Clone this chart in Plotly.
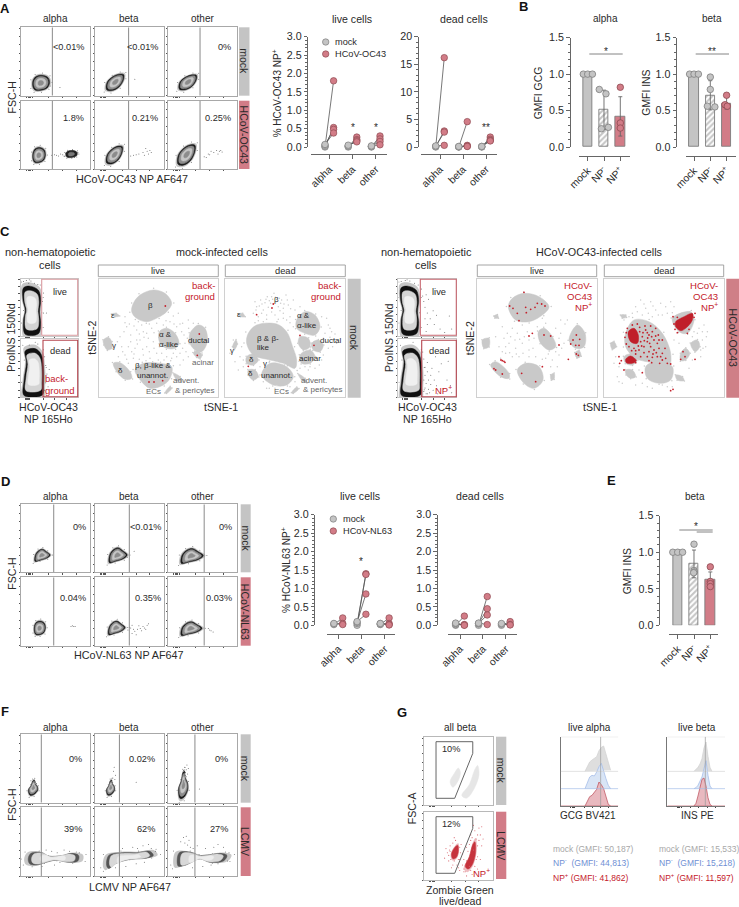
import plotly.graph_objects as go

W, H = 739, 907
INK = "#2a2a2a"
AXIS = "#666666"
GREY = "#c4c4c4"
GREY_EDGE = "#7d7d7d"
ROSE = "#d27c87"
ROSE_EDGE = "#8e4a52"
RED = "#c4202b"
BLUE = "#6f8fd4"

# --- paired dot charts (panels A, D)
CATS = ["alpha", "beta", "other"]
A_LIVE_MOCK = [[0.0, 0.02, 0.05, 0.07], [0.0, 0.02, 0.03, 0.05], [0.0, 0.01, 0.02, 0.03]]
A_LIVE_VIRUS = [[1.8, 0.53, 0.48, 0.38], [0.27, 0.2, 0.17, 0.14], [0.3, 0.22, 0.15, 0.06]]
A_DEAD_MOCK = [[0.0, 0.1, 0.1, 0.2], [0.0, 0.02, 0.05, 0.1], [0.0, 0.05, 0.1, 0.1]]
A_DEAD_VIRUS = [[16.2, 2.9, 2.7, 0.3], [4.6, 0.3, 0.15, 0.1], [1.8, 1.4, 1.2, 1.1]]
D_LIVE_MOCK = [[0.02, 0.04, 0.05], [0.0, 0.05, 0.08, 0.1], [0.02, 0.03, 0.05, 0.05]]
D_LIVE_VIRUS = [[0.2, 0.05, 0.02], [1.4, 1.38, 0.85, 0.3], [0.2, 0.05, 0.02, 0.01]]
D_DEAD_MOCK = [[0.0, 0.02, 0.05, 0.06], [0.0, 0.04, 0.05, 0.06], [0.0, 0.03, 0.05]]
D_DEAD_VIRUS = [[0.25, 0.02, 0.01, 0.0], [0.78, 0.45, 0.28, 0.02], [0.1, 0.02, 0.01]]

# --- bar charts (panels B, E)
BAR_CATS = ["mock", "NP<sup>-</sup>", "NP<sup>+</sup>"]
B_ALPHA_BARS = [1.0, 0.51, 0.42]
B_ALPHA_ERR = [0.0, 0.27, 0.27]
B_ALPHA_PTS = [[1.0, 1.0, 1.0], [0.79, 0.73, 0.27, 0.25], [0.82, 0.33, 0.26]]
B_ALPHA_JIT = [[-0.27, 0.0, 0.29], [-0.29, 0.12, 0.27, -0.16], [0.0, 0.0, 0.0]]
B_BETA_BARS = [1.0, 0.71, 0.6]
B_BETA_ERR = [0.0, 0.2, 0.08]
B_BETA_PTS = [[1.0, 1.0, 1.0], [0.96, 0.79, 0.56, 0.55], [0.71, 0.58, 0.56]]
B_BETA_JIT = [[-0.27, 0.0, 0.27], [0.0, 0.0, -0.18, 0.28], [0.0, -0.1, 0.04]]
E_BARS = [1.0, 0.84, 0.63]
E_ERR = [0.0, 0.19, 0.1]
E_PTS = [[1.0, 1.0, 1.0], [1.11, 0.75, 0.73, 0.72], [0.8, 0.6, 0.57, 0.53]]
E_JIT = [[-0.3, 0.0, 0.3], [0.0, 0.0, 0.02, -0.02], [0.0, 0.0, 0.0, 0.0]]

# --- flow cytometry panels, local units 0-100 on both axes
ROUND = [(-1, -0.6), (-0.7, -1), (0, -1), (0.7, -0.7), (1, 0), (0.8, 0.7), (0.1, 1), (-0.6, 0.85), (-1, 0.3)]
TILT = [(-1, -0.9), (-0.4, -1), (0.4, -0.55), (0.9, 0.35), (0.9, 0.95), (0.4, 1), (-0.3, 0.7), (-0.95, 0)]
FLAT = [(-1, -1), (-0.3, -0.8), (0.5, -0.5), (1, 0.05), (0.5, 0.6), (0, 1), (-0.5, 0.8), (-0.95, 0.1)]
TALL = [(-0.6, -1), (0.1, -0.9), (0.8, -0.3), (0.7, 0.2), (0.3, 0.55), (0.2, 1), (-0.1, 0.9), (-0.4, 0.3), (-0.9, -0.3)]
SHAPES = {"ROUND": ROUND, "TILT": TILT, "FLAT": FLAT, "TALL": TALL}
FLOW_COLS = [(21.3, 90.3), (95, 163.6), (168.3, 237.3)]

A_ROWS = [(27.3, 95.7), (100.7, 169)]
A_GATES = [45, 49, 46]
A_PCT = [["<0.01%", "<0.01%", "0%"], ["1.8%", "0.21%", "0.25%"]]
A_CLUSTERS = [
    [[(29, 19, 12, 11, "ROUND")], [(30, 19.5, 13, 12, "TILT")], [(29, 19.5, 13, 11, "TILT")]],
    [[(26, 20.5, 9, 11, "ROUND")], [(29, 20.5, 12, 13, "TILT")], [(27, 20.5, 13, 15, "TILT")]],
]
A_SPECKS = [
    [[(56, 12), (42, 14), (40, 24)], [(58, 24)], []],
    [[(44, 20), (48, 21), (51, 20), (54, 19), (57, 22), (60, 21), (62, 19), (64, 23), (66, 20), (68, 22),
      (70, 25), (72, 19), (73, 23), (75, 20), (76, 26), (78, 23), (80, 20), (82, 24), (69, 18), (74, 27), (77, 17)],
     [(52, 19), (56, 20), (60, 21), (64, 22), (70, 24), (72, 20), (74, 30), (76, 26), (78, 22), (80, 27), (82, 24)],
     [(52, 18), (55, 17), (58, 22), (60, 21), (62, 26), (66, 24), (70, 27), (72, 22), (74, 26), (76, 27), (78, 25)]],
]
A_DENSE = [(73, 22, 8, 5, "ROUND")]

D_ROWS = [(504.3, 572.3), (577.3, 645.7)]
D_GATES = [47, 50, 52]
D_PCT = [["0%", "<0.01%", "0%"], ["0.04%", "0.35%", "0.03%"]]
D_CLUSTERS = [
    [[(31, 25, 11, 9, "FLAT")], [(34, 25, 13, 11, "FLAT")], [(35, 24, 16, 11, "FLAT")]],
    [[(27, 26, 8, 10, "ROUND")], [(32, 26, 12, 10, "FLAT")], [(34, 25, 15, 10, "FLAT")]],
]
D_SPECKS = [
    [[], [(57, 31), (47, 22)], []],
    [[(74, 29), (76, 28), (78, 28), (72, 28)],
     [(48, 23), (50, 27), (52, 26), (54, 18), (56, 24), (58, 21), (60, 16), (62, 24), (66, 25), (68, 22),
      (70, 28), (72, 26), (74, 24), (76, 30), (78, 32), (54, 30), (64, 29)],
     [(58, 25), (60, 23), (62, 22), (65, 20)]],
]

F_ROWS = [(734.3, 802.7), (807.3, 876)]
F_GATES = [29, 35.6, 38.6]
F_PCT = [["0%", "0.02%", "0%"], ["39%", "62%", "27%"]]
F_CLUSTERS = [
    [[(17.5, 22, 8, 11, "TALL")], [(23, 22, 7, 11, "TALL")], [(22, 26, 8, 20, "TALL")]],
    [[], [], []],
]
F_SPECKS = [
    [[(14, 32), (20, 31), (22, 28)], [(28, 52), (27, 46), (30, 40), (26, 36), (60, 30), (29, 34)],
     [(26, 48), (24, 52), (27, 55), (25, 44), (28, 42), (22, 47), (29, 50), (45, 20), (26, 38)]],
    [[(36, 38), (44, 36), (52, 34), (62, 38), (70, 36), (84, 34), (30, 14), (48, 16), (56, 20)],
     [(40, 40), (55, 42), (62, 40), (70, 44), (78, 46), (82, 40), (88, 36), (30, 12), (45, 14), (60, 18), (72, 20)],
     [(18, 50), (22, 56), (24, 48), (26, 58), (28, 45), (30, 52), (32, 42), (36, 40), (42, 44), (54, 40), (66, 42),
      (72, 46), (80, 42), (88, 34), (35, 12), (50, 14), (62, 16), (72, 18), (86, 22)]],
]
F_BAND_ALPHA = [(10, 25), (14, 33), (30, 34), (40, 29), (60, 30), (72, 33), (83, 30), (82, 22), (68, 20), (50, 23), (36, 20), (22, 16), (12, 18)]
F_BAND_BETA = [(17, 15), (20, 30), (40, 34), (60, 34), (80, 36), (85, 30), (75, 26), (50, 24), (30, 18), (20, 11)]
F_BAND_OTHER = [(13, 18), (16, 34), (35, 34), (45, 30), (60, 31), (75, 33), (85, 30), (80, 22), (60, 20), (45, 25), (30, 18), (15, 14)]

# gating plots of panel C
C_LIVE_BLOB = [(5, 84), (16, 87), (31, 80), (35, 63), (33, 42), (35, 22), (31, 4), (8, 3), (5, 28), (8, 45), (4, 63)]
C_DEAD_BLOB = [(8, 80), (25, 84), (36, 74), (40, 50), (40, 20), (38, 4), (6, 3), (6, 30), (10, 60)]
C_MOCK_LIVE_SPECKS = [(5, 95), (10, 97), (18, 96), (24, 92), (30, 90), (14, 92), (40, 40), (45, 40), (38, 60), (40, 75)]
C_MOCK_DEAD_SPECKS = [(42, 70), (44, 55), (46, 40), (44, 25), (42, 12), (48, 18), (50, 48), (30, 92), (15, 90)]
C_OC43_LIVE_SPECKS = [(5, 95), (12, 97), (20, 96), (28, 92), (40, 82), (42, 70), (44, 60), (46, 50), (48, 72), (50, 40),
                      (52, 64), (46, 30), (50, 20), (55, 30), (60, 44), (62, 20), (66, 36), (72, 12), (80, 6), (88, 35), (92, 12), (48, 8)]
C_OC43_DEAD_SPECKS = [(42, 78), (44, 66), (46, 52), (46, 38), (48, 24), (44, 10), (50, 44), (50, 60), (52, 30), (52, 14), (54, 8),
                      (56, 22), (56, 38), (58, 50), (60, 12), (62, 30), (64, 70), (66, 20), (68, 6), (70, 44), (74, 58), (78, 14),
                      (84, 30), (86, 62), (90, 20), (48, 6), (46, 16), (50, 6), (44, 30), (92, 8)]

# --- tSNE maps, drawn in units
MOCK_LIVE_BLOBS = [
    [(400, 310), (420, 285), (460, 270), (495, 280), (515, 310), (500, 335), (475, 352), (440, 365), (410, 355), (395, 335)],
    [(478, 395), (500, 385), (525, 400), (537, 430), (525, 445), (500, 445), (480, 430)],
    [(570, 400), (595, 375), (615, 385), (622, 425), (605, 455), (585, 450), (570, 430)],
    [(580, 458), (592, 452), (606, 465), (600, 476), (590, 472)],
    [(310, 420), (325, 412), (335, 425), (335, 445), (322, 450), (312, 435)],
    [(340, 490), (360, 488), (390, 515), (395, 535), (375, 538), (350, 515)],
    [(405, 510), (430, 490), (480, 490), (515, 500), (510, 535), (490, 555), (450, 565), (425, 545)],
    [(335, 342), (348, 340), (358, 348), (345, 350)],
    [(495, 578), (510, 560), (515, 565), (500, 580)],
    [(520, 520), (540, 530), (545, 545), (530, 540)],
]
MOCK_LIVE_SPECKS = [(380, 380), (392, 405), (410, 390), (425, 375), (440, 400), (455, 385), (470, 370), (385, 440), (405, 445),
                    (420, 420), (440, 440), (460, 425), (470, 460), (430, 465), (400, 475), (375, 465), (360, 410), (545, 395),
                    (555, 430), (540, 460), (520, 460), (500, 470), (550, 480), (565, 470), (530, 380), (510, 365), (490, 375),
                    (450, 360), (415, 365), (375, 350), (395, 455), (450, 475), (485, 460), (548, 370), (565, 360), (445, 415),
                    (430, 395), (365, 440), (355, 470), (515, 475), (540, 495), (410, 420), (475, 480), (385, 490),
                    (372, 395), (388, 372), (402, 378), (418, 402), (432, 412), (448, 372), (462, 398), (476, 412), (392, 425),
                    (412, 432), (428, 448), (448, 455), (462, 445), (478, 440), (402, 462), (418, 478), (438, 482), (458, 485),
                    (352, 425), (368, 455), (380, 478), (552, 405), (562, 415), (548, 445), (558, 455), (530, 470), (512, 482),
                    (492, 480), (566, 385), (580, 370), (540, 372), (522, 372), (498, 362), (520, 348), (535, 340), (375, 368)]
MOCK_LIVE_RED = [(496, 318), (598, 402), (592, 466), (447, 546), (462, 546), (488, 542)]
MOCK_LIVE_LABELS = [("β", 452, 317, INK), ("ε", 338, 345, INK), ("γ", 342, 435, INK), ("α &", 497, 403, INK), ("α-like", 507, 432, INK),
                    ("ductal", 598, 422, INK), ("acinar", 608, 488, "#666"), ("δ", 362, 512, INK), ("β, β-like &", 460, 498, INK),
                    ("unannot.", 458, 527, INK), ("advent.", 558, 543, "#666"), ("& pericytes", 586, 573, "#666"), ("ECs", 461, 576, "#666")]
MOCK_DEAD_BLOBS = [
    [(745, 400), (770, 375), (830, 372), (860, 395), (878, 440), (890, 480), (885, 505), (850, 490), (810, 480), (760, 465), (740, 430)],
    [(890, 360), (915, 335), (945, 345), (960, 380), (945, 405), (915, 400), (890, 385)],
    [(935, 430), (955, 420), (970, 435), (960, 455), (940, 450)],
    [(900, 410), (925, 415), (930, 440), (910, 450), (895, 430)],
    [(900, 465), (930, 450), (945, 470), (930, 490), (905, 490)],
    [(740, 470), (760, 462), (775, 480), (760, 495), (740, 490)],
    [(745, 510), (765, 510), (775, 530), (760, 540), (745, 525)],
    [(785, 525), (810, 490), (860, 500), (880, 530), (860, 555), (820, 555)],
    [(698, 440), (708, 420), (712, 432), (704, 448)],
    [(715, 342), (728, 340), (735, 350), (722, 350)],
    [(875, 578), (890, 562), (896, 566), (880, 580)],
    [(895, 522), (915, 535), (920, 548), (905, 540)],
]
MOCK_DEAD_SPECKS = [(770, 320), (782, 300), (790, 330), (802, 290), (812, 310), (822, 280), (835, 320), (845, 300), (858, 285), (865, 315),
                    (760, 340), (775, 350), (800, 345), (825, 345), (850, 340), (870, 350), (880, 300), (805, 322), (795, 308), (838, 295),
                    (828, 305), (815, 290), (850, 325), (885, 330), (965, 350), (985, 375), (995, 395), (1000, 420), (985, 445), (975, 400),
                    (1010, 430), (880, 380), (970, 465), (720, 470), (705, 485), (715, 510), (730, 500), (790, 365), (860, 360), (900, 320),
                    (690, 460), (700, 420), (780, 500), (900, 505), (925, 510), (800, 565), (850, 570),
                    (765, 305), (778, 318), (786, 312), (798, 298), (808, 302), (818, 298), (826, 292), (842, 310), (852, 312), (862, 300),
                    (872, 326), (840, 332), (815, 336), (785, 340), (768, 330), (775, 362), (800, 358), (835, 358), (850, 355), (870, 368),
                    (980, 355), (990, 385), (978, 425), (998, 440), (990, 412), (1005, 402), (970, 415), (965, 480), (958, 495), (945, 505),
                    (930, 500), (915, 500), (795, 510), (790, 545), (808, 565), (825, 565), (870, 560), (885, 545), (725, 440), (730, 480)]
MOCK_DEAD_RED = [(820, 312), (816, 324), (770, 344), (900, 406), (942, 436), (745, 499)]
MOCK_DEAD_LABELS = [("β", 830, 298, INK), ("ε", 717, 344, INK), ("α &", 910, 347, INK), ("α-like", 920, 375, INK), ("β & β-", 805, 415, INK),
                    ("like", 790, 443, INK), ("ductal", 992, 422, INK), ("acinar", 931, 476, INK), ("γ", 696, 452, INK), ("γ", 794, 492, INK),
                    ("δ", 755, 480, INK), ("δ", 752, 520, INK), ("unannot.", 830, 527, INK), ("advent.", 942, 541, "#666"),
                    ("& pericytes", 970, 570, "#666"), ("ECs", 844, 575, "#666")]
OC43_LIVE_BLOBS = [
    [(418, 320), (430, 295), (465, 280), (510, 290), (540, 320), (520, 345), (480, 365), (440, 360)],
    [(508, 395), (525, 385), (550, 410), (560, 440), (540, 450), (515, 430)],
    [(600, 420), (625, 375), (648, 400), (645, 440), (620, 445)],
    [(618, 458), (630, 452), (636, 468), (624, 474)],
    [(340, 420), (360, 415), (360, 440), (345, 445)],
    [(365, 495), (380, 485), (420, 520), (420, 535), (395, 530)],
    [(445, 510), (470, 490), (510, 500), (522, 540), (495, 565), (465, 550)],
    [(375, 348), (385, 344), (388, 354), (378, 354)],
    [(545, 525), (555, 520), (555, 538), (547, 540)],
]
OC43_LIVE_SPECKS = [(400, 380), (415, 400), (430, 385), (445, 400), (460, 375), (475, 395), (420, 430), (440, 445), (460, 430), (480, 450),
                    (500, 470), (410, 460), (390, 440), (380, 410), (530, 370), (560, 385), (575, 400), (585, 430), (570, 465), (550, 480),
                    (530, 475), (595, 360), (520, 355), (450, 470), (430, 470), (395, 475), (495, 415), (480, 420), (565, 500), (545, 500),
                    (405, 415), (425, 410), (438, 420), (452, 418), (466, 410), (410, 440), (400, 455), (422, 458), (442, 462), (462, 460),
                    (480, 470), (492, 445), (575, 360), (588, 372), (570, 415), (578, 445), (560, 455), (538, 462), (520, 478), (505, 380)]
OC43_LIVE_RED = [(465, 277), (422, 318), (432, 325), (445, 340), (470, 322), (485, 328), (498, 322), (505, 310), (518, 312), (528, 318),
                 (450, 362), (472, 338), (545, 408), (525, 405), (490, 400), (480, 408), (622, 405), (612, 420), (632, 418), (605, 432),
                 (620, 436), (630, 436), (622, 462), (628, 466), (598, 478), (400, 482), (405, 484), (396, 480), (408, 487), (375, 506),
                 (380, 510), (400, 522), (458, 520), (520, 500), (500, 545), (570, 435)]
OC43_DEAD_BLOBS = [
    [(770, 400), (795, 360), (840, 365), (880, 400), (905, 460), (900, 500), (860, 490), (800, 475), (770, 440)],
    [(910, 355), (965, 335), (975, 360), (955, 400), (930, 395)],
    [(830, 500), (860, 485), (910, 500), (905, 540), (870, 550), (835, 535)],
    [(765, 470), (785, 462), (805, 480), (790, 495), (770, 490)],
    [(770, 510), (790, 510), (800, 530), (785, 535), (772, 525)],
    [(935, 460), (950, 445), (962, 460), (950, 480), (935, 482)],
    [(965, 430), (985, 420), (992, 440), (978, 455)],
    [(920, 525), (940, 530), (945, 542), (925, 540)],
    [(725, 430), (735, 425), (742, 440), (730, 448)],
    [(755, 345), (770, 345), (772, 352), (760, 354)],
]
OC43_DEAD_SPECKS = [(800, 320), (815, 300), (830, 325), (845, 305), (860, 330), (875, 310), (890, 320), (905, 305), (915, 320), (880, 345),
                    (850, 350), (820, 345), (790, 340), (1005, 375), (1015, 395), (1000, 420), (985, 400), (970, 410), (1010, 440), (995, 450),
                    (740, 470), (750, 500), (810, 510), (820, 550), (850, 565), (880, 555), (910, 560), (745, 530), (760, 550), (915, 420), (930, 430),
                    (805, 335), (825, 312), (838, 340), (852, 318), (868, 345), (895, 340), (910, 338), (780, 350), (765, 360), (990, 385),
                    (1000, 395), (975, 395), (1002, 445), (1012, 410), (995, 470), (970, 480), (960, 505), (735, 490), (750, 545), (800, 555), (835, 560), (895, 560)]
OC43_DEAD_RED_CORES = [
    [(778, 395), (795, 385), (808, 405), (805, 430), (785, 425)],
    [(920, 365), (945, 350), (970, 340), (970, 360), (950, 385), (935, 392), (920, 380)],
    [(770, 478), (785, 468), (802, 482), (790, 490), (772, 488)],
]
OC43_DEAD_RED = [(812, 395), (820, 410), (830, 390), (840, 405), (850, 395), (815, 425), (825, 440), (835, 425), (845, 440), (855, 420),
                 (865, 430), (780, 440), (795, 445), (810, 450), (825, 458), (840, 455), (855, 450), (870, 445), (880, 460), (890, 475),
                 (800, 462), (815, 470), (835, 470), (850, 472), (865, 470), (880, 480), (895, 490), (860, 385), (790, 375), (775, 385),
                 (805, 372), (828, 378), (845, 378), (868, 405), (880, 420), (888, 445), (872, 490), (848, 488), (905, 492), (912, 350),
                 (925, 352), (915, 372), (960, 388), (975, 352), (978, 340), (955, 400), (942, 455), (948, 470), (935, 478), (978, 478),
                 (752, 490), (757, 482), (765, 510), (820, 518), (912, 568), (905, 572), (750, 470), (925, 398), (918, 388), (800, 488),
                 (822, 398), (836, 414), (848, 410), (826, 422), (818, 438), (842, 430), (860, 408), (870, 420), (808, 438), (800, 452),
                 (788, 452), (772, 432), (768, 412), (772, 398), (812, 382), (835, 398), (852, 462), (862, 458), (875, 470), (840, 482)]
LIVE_TITLES_RED = ["HCoV-", "OC43", "NP<sup>+</sup>"]

# --- histograms of panel G (bin centres and heights, per row)
HIST_ALPHA_X = [555, 562, 569, 576, 583, 590, 597, 604, 611, 618, 625, 632]
HIST_ALPHA_MOCK = [0, 14, 28, 34, 38, 44, 62, 72, 76, 52, 22, 3]
HIST_ALPHA_NEG = [0, 15, 35, 40, 38, 50, 66, 76, 50, 30, 10, 0]
HIST_ALPHA_POS = [0, 12, 28, 32, 40, 50, 72, 64, 52, 30, 5, 0]
HIST_BETA_X = [882, 888, 894, 900, 906, 912, 918, 924, 930, 936]
HIST_BETA_MOCK = [0, 5, 12, 22, 38, 70, 88, 45, 12, 0]
HIST_BETA_NEG = [0, 3, 10, 22, 35, 60, 84, 40, 8, 0]
HIST_BETA_POS = [0, 8, 30, 58, 80, 84, 60, 25, 5, 0]
G_GATE = [(17.5, 92.7), (71, 92.7), (71, 75.6), (44.7, 9.8), (17.5, 9.8)]
G_MOCK_CLOUDS = [[(38, 34), (44, 46), (50, 54), (53, 48), (50, 36), (42, 26)],
                 [(55, 14), (66, 30), (74, 52), (78, 58), (80, 44), (72, 22), (62, 10)]]
G_LCMV_CLOUDS = [[(40, 38), (45, 48), (49, 51), (50, 42), (47, 33), (42, 31)],
                 [(60, 20), (66, 34), (71, 52), (74, 56), (75, 40), (70, 22), (64, 16)]]
G_LCMV_SPECKS = [(34, 40), (36, 28), (42, 22), (48, 22), (52, 30), (56, 38), (54, 52), (46, 58), (38, 50), (30, 32), (60, 22), (52, 14),
                 (50, 18), (58, 30), (62, 48), (68, 66), (74, 72), (80, 76), (82, 66), (84, 50), (82, 30), (78, 16), (70, 8), (62, 6),
                 (66, 52), (76, 30), (84, 78), (80, 58), (40, 18), (32, 46), (58, 12), (86, 60), (74, 12), (44, 62), (72, 80),
                 (37, 44), (36, 36), (39, 30), (44, 28), (50, 30), (53, 40), (52, 48), (42, 54), (38, 42), (58, 16), (56, 22), (62, 28),
                 (64, 42), (68, 58), (70, 62), (76, 60), (78, 50), (78, 34), (74, 20), (68, 14), (60, 12), (66, 20), (72, 44), (78, 66)]
G_TEXT_ALPHA = ["mock (GMFI: 50,187)", "NP<sup>-</sup>  (GMFI: 44,813)", "NP<sup>+</sup> (GMFI: 41,862)"]
G_TEXT_BETA = ["mock (GMFI: 15,533)", "NP<sup>-</sup>  (GMFI: 15,218)", "NP<sup>+</sup> (GMFI: 11,597)"]

fig = go.Figure()
axis_count = 0


def new_axes(xkw, ykw):
    global axis_count
    axis_count += 1
    tag = "" if axis_count == 1 else str(axis_count)
    xkw.setdefault("anchor", "y" + tag)
    ykw.setdefault("anchor", "x" + tag)
    fig.update_layout({"xaxis" + tag: xkw, "yaxis" + tag: ykw})
    return "x" + tag, "y" + tag


def dx(a, b):
    return [a / W, b / W]


def dy(top, bot):
    return [1 - bot / H, 1 - top / H]


def text(px, py, s, size=10.6, color=INK, anchor="center", angle=0, bold=False):
    fig.add_annotation(x=px / W, y=1 - py / H, xref="paper", yref="paper", text=f"<b>{s}</b>" if bold else s,
                       showarrow=False, xanchor=anchor, yanchor="middle", textangle=angle,
                       font=dict(size=size, color=color))


def page_rect(x0, y0, x1, y1, fill="rgba(0,0,0,0)", line=None, width=1):
    fig.add_shape(type="rect", xref="paper", yref="paper", x0=x0 / W, x1=x1 / W, y0=1 - y1 / H, y1=1 - y0 / H,
                  fillcolor=fill, line=dict(color=line, width=width if line else 0))


def page_line(x0, y0, x1, y1, color=AXIS, width=0.8):
    fig.add_shape(type="line", xref="paper", yref="paper", x0=x0 / W, x1=x1 / W, y0=1 - y0 / H, y1=1 - y1 / H,
                  line=dict(color=color, width=width))


def strip(x0, x1, y0, y1, fill, label):
    page_rect(x0, y0, x1, y1, fill=fill)
    text((x0 + x1) / 2, (y0 + y1) / 2, label, angle=90, size=10.5)


def polygon(xa, ya, pts, fill, line=None, width=0.5, smooth=True):
    xs = [p[0] for p in pts] + [pts[0][0]]
    ys = [p[1] for p in pts] + [pts[0][1]]
    fig.add_trace(go.Scatter(x=xs, y=ys, xaxis=xa, yaxis=ya, mode="lines", fill="toself", fillcolor=fill,
                             line=dict(color=line or fill, width=width, shape="spline" if smooth else "linear"),
                             hoverinfo="skip", showlegend=False))


def dots(xa, ya, pts, color, size=1.4):
    if not pts:
        return
    fig.add_trace(go.Scatter(x=[p[0] for p in pts], y=[p[1] for p in pts], xaxis=xa, yaxis=ya, mode="markers",
                             marker=dict(color=color, size=size), hoverinfo="skip", showlegend=False, cliponaxis=True))


def scaled(pts, k):
    cx = sum(p[0] for p in pts) / len(pts)
    cy = sum(p[1] for p in pts) / len(pts)
    return [(cx + (p[0] - cx) * k, cy + (p[1] - cy) * k) for p in pts]


def contour(xa, ya, pts, layers=((1.0, "#1a1a1a"), (0.84, "#8c8c8c"), (0.6, "#c6c6c6"), (0.32, "#8c8c8c"))):
    polygon(xa, ya, scaled(pts, 1.17), "rgba(70,70,70,0.3)", line="rgba(0,0,0,0)")
    dots(xa, ya, scaled(pts, 1.28), "#777777", 1)
    for k, col in layers:
        polygon(xa, ya, scaled(pts, k), col)


def cluster_points(c):
    cx, cy, sx, sy, name = c
    return [(cx + a * sx, cy + b * sy) for a, b in SHAPES[name]]


def flow_axes(col, row, frame="#a8a8a8"):
    ticks = dict(ticks="outside", ticklen=1.5, tickwidth=0.7, tickcolor="#555555", showticklabels=False,
                 showgrid=False, zeroline=False, showline=True, mirror=True, linecolor=frame, linewidth=0.8,
                 range=[0, 100], fixedrange=True)
    return new_axes(dict(domain=dx(*col), tickvals=[8, 10, 12, 14, 16, 40, 60, 80], **ticks),
                    dict(domain=dy(*row), tickvals=[0, 12, 25, 37, 50, 62, 75, 87, 98], **ticks))


def gate_line(xa, ya, x):
    fig.add_shape(type="line", xref=xa, yref=ya, x0=x, x1=x, y0=0, y1=100, line=dict(color="#8a8a8a", width=1))


def flow_grid(rows, gates, clusters, specks, pct, right_off, pct_y, headers_y):
    grid = []
    for r, row in enumerate(rows):
        line = []
        for c, col in enumerate(FLOW_COLS):
            xa, ya = flow_axes(col, row)
            gate_line(xa, ya, gates[c])
            for cl in clusters[r][c]:
                contour(xa, ya, cluster_points(cl))
            dots(xa, ya, specks[r][c], "#666666", 1)
            text(col[1] + right_off[c], pct_y[r], pct[r][c], anchor="right", size=9.2)
            line.append((xa, ya))
        grid.append(line)
    for c, name in enumerate(CATS):
        text(sum(FLOW_COLS[c]) / 2, headers_y, name, size=10)
    return grid


def y_line_axis(top, bot, rng, major, minor, xpos):
    return dict(domain=dy(top, bot), range=rng, anchor="free", position=xpos / W, showline=True, linecolor=AXIS,
                linewidth=0.9, ticks="outside", ticklen=3.5, tickwidth=0.9, tickcolor=AXIS, dtick=major, tick0=0,
                tickformat=".1f" if major < 1 else "d", minor=dict(ticks="outside", ticklen=2, dtick=minor, tickcolor=AXIS, tickwidth=0.6),
                showgrid=False, zeroline=False, tickfont=dict(size=10.7, color=INK), fixedrange=True)


def x_cat_axis(left, right, t0, step, ypos, labels):
    return dict(domain=dx(left, right), range=[(left - t0) / step, (right - t0) / step], anchor="free", position=1 - ypos / H,
                showline=True, linecolor=AXIS, linewidth=0.9, ticks="outside", ticklen=4, tickwidth=0.9, tickcolor=AXIS,
                tickvals=list(range(len(labels))), ticktext=labels, tickangle=-45, showgrid=False, zeroline=False,
                tickfont=dict(size=10.3, color=INK), fixedrange=True)


def paired_chart(ybox, ymax, major, minor, yx, xbox, t0, step, xy, mock, virus, shift):
    xa, ya = new_axes(x_cat_axis(xbox[0], xbox[1], t0, step, xy, CATS), y_line_axis(ybox[0], ybox[1], [0, ymax], major, minor, yx))
    for i, (m, v) in enumerate(zip(mock, virus)):
        for a, b in zip(m, v):
            fig.add_trace(go.Scatter(x=[i - shift, i + shift], y=[a, b], xaxis=xa, yaxis=ya, mode="lines", cliponaxis=False,
                                     line=dict(color="#555555", width=0.8), hoverinfo="skip", showlegend=False))
    for vals, fill, edge, off in ((mock, GREY, GREY_EDGE, -shift), (virus, ROSE, ROSE_EDGE, shift)):
        fig.add_trace(go.Scatter(x=[i + off for i, v in enumerate(vals) for _ in v], y=[a for v in vals for a in v], xaxis=xa, yaxis=ya,
                                 mode="markers", cliponaxis=False, marker=dict(size=6.5, color=fill, line=dict(color=edge, width=0.7)),
                                 hoverinfo="skip", showlegend=False))


def legend_key(px, py, fill, edge):
    fig.add_shape(type="circle", xref="paper", yref="paper", x0=(px - 3.2) / W, x1=(px + 3.2) / W, y0=1 - (py + 3.2) / H, y1=1 - (py - 3.2) / H,
                  fillcolor=fill, line=dict(color=edge, width=0.7))


def bar_chart(ybox, yx, xbox, t0, step, xy, bars, err, pts, jit, bar_width):
    xa, ya = new_axes(x_cat_axis(xbox[0], xbox[1], t0, step, xy, BAR_CATS), y_line_axis(ybox[0], ybox[1], [0, 1.5], 0.5, 0.1, yx))
    fig.add_trace(go.Bar(x=[0, 1, 2], y=bars, xaxis=xa, yaxis=ya, width=bar_width, cliponaxis=False, showlegend=False, hoverinfo="skip",
                         marker=dict(color=[GREY, GREY, ROSE], line=dict(color=GREY_EDGE, width=0.9),
                                     pattern=dict(shape=["", "/", ""], fgcolor=[GREY, "#d27c87", ROSE], bgcolor=[GREY, "#d6cccd", ROSE],
                                                  fgopacity=1, fillmode="replace", size=4, solidity=0.5)),
                         error_y=dict(type="data", array=err, color="#666666", thickness=0.9, width=2)))
    xs, ys, fills, edges = [], [], [], []
    for i, (p, j) in enumerate(zip(pts, jit)):
        for a, b in zip(p, j):
            xs.append(i + b)
            ys.append(a)
            fills.append(ROSE if i == 2 else GREY)
            edges.append(ROSE_EDGE if i == 2 else GREY_EDGE)
    fig.add_trace(go.Scatter(x=xs, y=ys, xaxis=xa, yaxis=ya, mode="markers", cliponaxis=False, hoverinfo="skip", showlegend=False,
                             marker=dict(size=6.5, color=fills, line=dict(color=edges, width=0.8))))


def tsne_map(xbox, ybox, xr, yr, blobs, specks, red, labels, cores=()):
    plain = dict(showgrid=False, zeroline=False, showticklabels=False, ticks="", showline=True, mirror=True, linecolor="#d0d0d0",
                 linewidth=1, fixedrange=True)
    xa, ya = new_axes(dict(domain=dx(*xbox), range=xr, **plain), dict(domain=dy(*ybox), range=yr, **plain))
    for b in blobs:
        polygon(xa, ya, b, "#c9c9c9")
        dots(xa, ya, scaled(b, 1.1), "#c9c9c9", 1.5)
    dots(xa, ya, specks, "#cccccc", 1.5)
    for b in cores:
        polygon(xa, ya, b, "#c01f2a")
    dots(xa, ya, red, RED, 1.8)
    for s, x, y, col in labels:
        fig.add_annotation(x=x, y=y, xref=xa, yref=ya, text=s, showarrow=False, font=dict(size=8, color=col))


# panel letters
for s, x, y in (("A", 5, 8), ("B", 523.5, 7), ("C", 5, 232), ("D", 5, 481.5), ("E", 611.5, 480.5), ("F", 5, 711.5), ("G", 402, 712.5)):
    text(x, y, s, size=13, color="#111", bold=True)

# ---- A
flow_grid(A_ROWS, A_GATES, A_CLUSTERS, A_SPECKS, A_PCT, [-4, -3.5, -4.5], [46.7, 118], 19)
contour("x4", "y4", cluster_points(A_DENSE[0]), layers=((1.0, "#222222"), (0.55, "#777777")))
strip(239, 249.5, 27.3, 95.7, GREY, "mock")
strip(239, 249.5, 100.7, 169, ROSE, "HCoV-OC43")
text(11.5, 98, "FSC-H", angle=-90)
text(131.5, 179, "HCoV-OC43 NP AF647", size=10.8)

paired_chart((36.7, 147), 3, 0.5, 0.1, 307.3, (310.7, 386.5), 329.3, 23.2, 154.3, A_LIVE_MOCK, A_LIVE_VIRUS, 0.185)
paired_chart((36.7, 147), 20, 5, 1, 417.7, (421.3, 496.7), 440, 23, 154.3, A_DEAD_MOCK, A_DEAD_VIRUS, 0.185)
text(352, 19, "live cells")
text(463.7, 19, "dead cells")
text(277.3, 93, "% HCoV-OC43 NP<sup>+</sup>", angle=-90, size=10)
legend_key(325.7, 42, GREY, GREY_EDGE)
legend_key(325.7, 54, ROSE, ROSE_EDGE)
text(332.7, 42, "mock", anchor="left", size=9.2)
text(332.7, 54, "HCoV-OC43", anchor="left", size=9.2)
text(352.7, 127, "*", size=10)
text(375.7, 127, "*", size=10)
text(485.7, 127.5, "**", size=10)

# ---- B
bar_chart((37.7, 147), 569.5, (579.3, 630), 587.7, 16.3, 155.7, B_ALPHA_BARS, B_ALPHA_ERR, B_ALPHA_PTS, B_ALPHA_JIT, 0.58)
bar_chart((37.7, 147), 676, (686, 736), 694, 16.3, 155.7, B_BETA_BARS, B_BETA_ERR, B_BETA_PTS, B_BETA_JIT, 0.58)
text(605, 19, "alpha", size=10)
text(711.7, 19, "beta", size=10)
text(539.3, 93, "GMFI GCG", angle=-90, size=10.4)
text(646.7, 93, "GMFI INS", angle=-90, size=10.4)
page_line(589.3, 54, 622.7, 54)
page_line(695.7, 54, 729, 54)
text(605.7, 51, "*", size=10)
text(712.3, 51, "**", size=10)

# ---- C
BOX_TOP, BOX_BOT = 278.7, 397.3
for cx, title, cx_t in ((50, "mock-infected cells", 222), (426.3, "HCoV-OC43-infected cells", 599.3)):
    text(cx, 252, "non-hematopoietic", size=11)
    text(cx, 265, "cells", size=10.8)
    text(cx_t, 252, title, size=10.8)
for x0, x1, s in ((98.3, 218.3, "live"), (225.3, 345.3, "dead"), (477.3, 596.7, "live"), (604.3, 723.7, "dead")):
    page_rect(x0, 265, x1, 276.7, fill="white", line="#9a9a9a", width=0.9)
    text((x0 + x1) / 2, 270.8, s, size=9.3)

for col, lgate, dgate, live_specks, dead_specks, sx, txt_x, head in (
        ((20.7, 77.7), 41.7, 43, C_MOCK_LIVE_SPECKS, C_MOCK_DEAD_SPECKS, 10.7, 48.7, "back"),
        ((398.3, 456.3), 420.3, 421.7, C_OC43_LIVE_SPECKS, C_OC43_DEAD_SPECKS, 389, 427.3, "np")):
    for row, blob, spk in (((278.7, 336), C_LIVE_BLOB, live_specks), ((339.3, 397.3), C_DEAD_BLOB, dead_specks)):
        xa, ya = flow_axes(col, row, frame="#c8c8c8")
        contour(xa, ya, blob, layers=((1.0, "#111111"), (0.8, "#d4d4d4"), (0.55, "#f0f0f0")))
        dots(xa, ya, spk, "#666666", 1)
    page_rect(lgate, 279.3, col[1], 335.3, line="#d99a9f" if head == "back" else "#c7666f", width=1.1)
    page_rect(dgate, 340.3, col[1], 396.7, line="#b5454f", width=1.1)
    text(sx, 338, "ProINS 150Nd", angle=-90)
    text(txt_x, 406.7, "HCoV-OC43")
    text(txt_x, 419, "NP 165Ho")
    text(lgate + 18.7, 292, "live", size=9.3)
    text(dgate + 17.7, 351, "dead", size=9.3)
text(56.7, 379, "back-", size=9.5, color=RED)
text(60, 390, "ground", size=9.5, color=RED)
text(454, 390, "NP<sup>+</sup>", size=9.5, color=RED, anchor="right")

tsne_map((98.7, 218.3), (BOX_TOP, BOX_BOT), [296, 655], [592, 236], MOCK_LIVE_BLOBS, MOCK_LIVE_SPECKS, MOCK_LIVE_RED, MOCK_LIVE_LABELS)
tsne_map((225.3, 345.3), (BOX_TOP, BOX_BOT), [676, 1036], [592, 236], MOCK_DEAD_BLOBS, MOCK_DEAD_SPECKS, MOCK_DEAD_RED, MOCK_DEAD_LABELS)
tsne_map((477.3, 596.7), (BOX_TOP, BOX_BOT), [325, 683], [592, 236], OC43_LIVE_BLOBS, OC43_LIVE_SPECKS, OC43_LIVE_RED, [])
tsne_map((604.3, 723.7), (BOX_TOP, BOX_BOT), [706, 1064], [592, 236], OC43_DEAD_BLOBS, OC43_DEAD_SPECKS, OC43_DEAD_RED, [], OC43_DEAD_RED_CORES)
for right in (216.5, 342.5):
    text(right, 285, "back-", size=9.6, color=RED, anchor="right")
    text(right, 296, "ground", size=9.6, color=RED, anchor="right")
for right in (593.5, 720):
    for s, y in zip(LIVE_TITLES_RED, (285, 296, 307)):
        text(right, y, s, size=9.6, color=RED, anchor="right")
text(91.7, 338, "tSNE-2", angle=-90)
text(470.3, 338, "tSNE-2", angle=-90)
text(221, 406.7, "tSNE-1")
text(599.7, 406.7, "tSNE-1")
strip(347.7, 360.7, 278.7, 397.7, GREY, "mock")
strip(726.3, 739, 278.7, 397.7, "#cf7f87", "HCoV-OC43")

# ---- D
flow_grid(D_ROWS, D_GATES, D_CLUSTERS, D_SPECKS, D_PCT, [-2.3, -1, -3.3], [527.3, 598], 496)
strip(240.7, 250.7, 504.3, 572.3, GREY, "mock")
strip(240.7, 250.7, 577.3, 645.7, ROSE, "HCoV-NL63")
text(11.7, 574, "FSC-H", angle=-90)
text(129, 654.5, "HCoV-NL63 NP AF647", size=10.8)
paired_chart((514.7, 625.3), 3, 0.5, 0.1, 314.3, (326.7, 395), 338.3, 23.2, 634, D_LIVE_MOCK, D_LIVE_VIRUS, 0.19)
paired_chart((514.7, 625.3), 3, 0.5, 0.1, 436.7, (448.3, 516.7), 460, 22.9, 634, D_DEAD_MOCK, D_DEAD_VIRUS, 0.19)
text(360, 496, "live cells")
text(479.7, 496, "dead cells")
text(286, 570, "% HCoV-NL63 NP<sup>+</sup>", angle=-90, size=10)
legend_key(333.3, 519, GREY, GREY_EDGE)
legend_key(333.3, 531, ROSE, ROSE_EDGE)
text(341, 519, "mock", anchor="left", size=9.2)
text(341, 531, "HCoV-NL63", anchor="left", size=9.2)
text(361, 561, "*", size=10)

# ---- E
bar_chart((515.7, 625.3), 659, (669.3, 718.3), 677.7, 16.3, 634, E_BARS, E_ERR, E_PTS, E_JIT, 0.58)
text(695, 496, "beta", size=10)
text(627.3, 571, "GMFI INS", angle=-90, size=10.4)
page_line(679.3, 530, 712.7, 530)
page_line(696.7, 532, 712.7, 532)
text(696, 526, "*", size=10)

# ---- F
grid = flow_grid(F_ROWS, F_GATES, F_CLUSTERS, F_SPECKS, F_PCT, [-6.3, -6.6, -7.3], [758.7, 829.3], 727.3)
band_layers = ((1.0, "#555555"), (0.86, "#d8d8d8"), (0.5, "#ededed"))
for cell, band in zip(grid[1], (F_BAND_ALPHA, F_BAND_BETA, F_BAND_OTHER)):
    contour(cell[0], cell[1], band, layers=band_layers)
strip(240.7, 250.7, 734.3, 802.7, GREY, "mock")
strip(240.7, 250.7, 807.3, 876, ROSE, "LCMV")
text(11.7, 805, "FSC-H", angle=-90)
text(130, 887, "LCMV NP AF647", size=10.8)

# ---- G
for row, clouds, color in (((736.7, 805), G_MOCK_CLOUDS, "#e6e6e6"), ((811.7, 880), G_LCMV_CLOUDS, "#c22a33")):
    xa, ya = flow_axes((424, 492.7), row, frame="#b8b8b8")
    for cl in clouds:
        polygon(xa, ya, cl, color)
    if color != "#e6e6e6":
        for cl in clouds:
            polygon(xa, ya, scaled(cl, 1.25), "rgba(205,70,80,0.35)", line="rgba(0,0,0,0)")
        dots(xa, ya, G_LCMV_SPECKS, "#d8636c", 1.1)
    polygon(xa, ya, G_GATE, "rgba(0,0,0,0)", line="#555555", width=0.9, smooth=False)
text(440, 749.3, "10%", anchor="left", size=9.2)
text(440, 824, "12%", anchor="left", size=9.2)
text(491.7, 873.3, "NP<sup>+</sup>", anchor="right", size=9.5, color=RED)
text(460, 727.3, "all beta", size=10)
text(412.3, 808, "FSC-A", angle=-90)
text(460, 890.3, "Zombie Green")
text(460, 901, "live/dead")
strip(496, 506.3, 736.7, 805, GREY, "mock")
strip(496, 506.3, 811.7, 879, ROSE, "LCMV")


def hist_panel(xbox, xr, gate, bins, mock, neg, pos):
    line = dict(showgrid=False, zeroline=False, showline=True, linecolor="#777777", linewidth=0.8, fixedrange=True, showticklabels=False)
    xa, ya = new_axes(dict(domain=dx(*xbox), range=xr, ticks="outside", ticklen=1.5, tickcolor="#444",
                           tickvals=[xr[0] + 30 + i * 4 for i in range(4)] + [xr[0] + 70, xr[0] + 95, xr[0] + 120, xr[0] + 145], **line),
                      dict(domain=dy(736.7, 806), range=[0, 208], ticks="", **line))
    fig.add_shape(type="line", xref=xa, yref=ya, x0=xr[0], x1=xr[1], y0=208, y1=208, line=dict(color="#cfcfcf", width=0.7))
    for vals, base, fill, edge in ((mock, 104, "#dedede", "#d4d4d4"), (neg, 52, "#d9e5f6", "#a6bee9"), (pos, 0, "#e9b9bf", "#c25a66")):
        fig.add_shape(type="line", xref=xa, yref=ya, x0=xr[0], x1=xr[1], y0=base, y1=base, line=dict(color=edge, width=0.7))
        fig.add_trace(go.Scatter(x=bins, y=[base + h for h in vals], xaxis=xa, yaxis=ya, mode="lines", fill="toself", fillcolor=fill,
                                 line=dict(color=edge, width=0.8), hoverinfo="skip", showlegend=False))
    fig.add_shape(type="line", xref=xa, yref=ya, x0=gate, x1=gate, y0=0, y1=208, line=dict(color="#9a9a9a", width=0.7))


hist_panel((560.7, 618.3), [482, 655], 602, HIST_ALPHA_X, HIST_ALPHA_MOCK, HIST_ALPHA_NEG, HIST_ALPHA_POS)
hist_panel((667.3, 725), [802, 975], 916, HIST_BETA_X, HIST_BETA_MOCK, HIST_BETA_NEG, HIST_BETA_POS)
text(589, 727.3, "live alpha", size=10)
text(697.3, 727.3, "live beta", size=10)
text(588.3, 815.3, "GCG BV421", size=10)
text(697.7, 815.3, "INS PE", size=10)
for left, lines in ((551, G_TEXT_ALPHA), (656.7, G_TEXT_BETA)):
    for s, y, col in zip(lines, (849, 862.3, 877), ("#a8a8a8", BLUE, RED)):
        text(left, y, s, anchor="left", size=8.5, color=col)

fig.update_layout(width=W, height=H, margin=dict(l=0, r=0, t=0, b=0, autoexpand=False), showlegend=False, bargap=0,
                  paper_bgcolor="white", plot_bgcolor="rgba(0,0,0,0)",
                  font=dict(family="Liberation Sans, Arial, sans-serif", color=INK, size=10))

fig.write_html("out.html", config=dict(displayModeBar=False), post_script="document.body.style.margin='0';document.body.style.overflow='hidden';")
